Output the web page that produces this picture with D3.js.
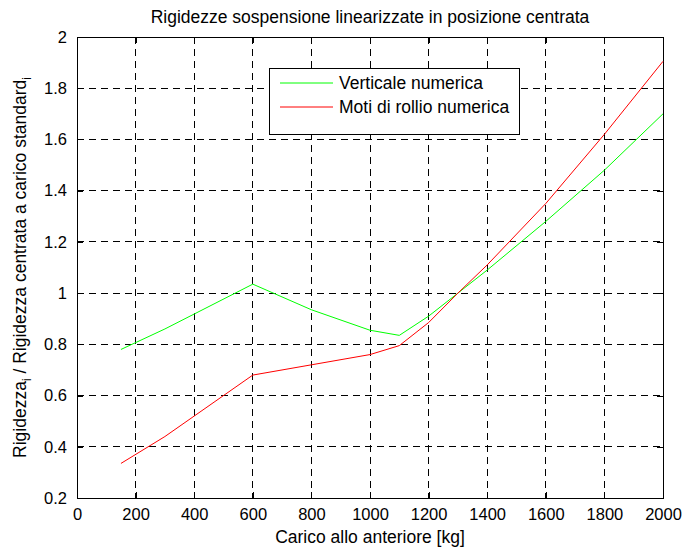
<!DOCTYPE html>
<html>
<head>
<meta charset="utf-8">
<script src="https://cdn.jsdelivr.net/npm/d3@7"></script>
<style>
  body { margin: 0; background: #fff; }
  text { font-family: "Liberation Sans", Arial, sans-serif; fill: #000; }
</style>
</head>
<body>
<div id="graphic"></div>
<script>
// carico anteriore [kg]
var carico = [150, 300, 600, 800, 1000, 1100, 1200, 1300, 1400, 1600, 1800, 2000];
// rigidezze normalizzate
var verticale = [0.78, 0.86, 1.035, 0.935, 0.855, 0.835, 0.91, 1.0, 1.09, 1.28, 1.48, 1.70];
var rollio = [0.335, 0.44, 0.68, 0.72, 0.76, 0.795, 0.885, 1.0, 1.11, 1.35, 1.62, 1.905];

var xTicks = [0, 200, 400, 600, 800, 1000, 1200, 1400, 1600, 1800, 2000];
var yTicks = [0.2, 0.4, 0.6, 0.8, 1, 1.2, 1.4, 1.6, 1.8, 2];

var series = [
    { name: "Verticale numerica", values: verticale, color: "#00ff00" },
    { name: "Moti di rollio numerica", values: rollio, color: "#ff0000" }
];

var margin = { top: 37, right: 20, bottom: 51, left: 77 };
var width = 683 - margin.left - margin.right,
    height = 549 - margin.top - margin.bottom;

var svg = d3.select("#graphic").append("svg")
    .attr("width", 683)
    .attr("height", 549);

var g = svg.append("g")
    .attr("transform", "translate(" + margin.left + "," + margin.top + ")");

var x = d3.scaleLinear().domain([0, 2000]).range([0, width]);
var y = d3.scaleLinear().domain([0.2, 2]).range([height, 0]);

// griglia tratteggiata
g.selectAll(".vgrid").data(xTicks.slice(1, -1)).enter().append("line")
    .attr("x1", function (d) { return x(d); })
    .attr("x2", function (d) { return x(d); })
    .attr("y1", 0).attr("y2", height)
    .attr("stroke", "#000").attr("stroke-dasharray", "7,5").attr("stroke-width", 1)
    .attr("shape-rendering", "crispEdges");

g.selectAll(".hgrid").data(yTicks.slice(1, -1)).enter().append("line")
    .attr("y1", function (d) { return y(d); })
    .attr("y2", function (d) { return y(d); })
    .attr("x1", 0).attr("x2", width)
    .attr("stroke", "#000").attr("stroke-dasharray", "7,5").attr("stroke-width", 1)
    .attr("shape-rendering", "crispEdges");

// assi con tacche verso l'interno su tutti i lati
var tick = 6;
g.append("g")
    .attr("transform", "translate(0," + height + ")")
    .call(d3.axisBottom(x).tickValues(xTicks).tickFormat(d3.format("d")).tickSizeInner(-tick).tickSizeOuter(0).tickPadding(10))
    .call(function (a) {
        a.select(".domain").remove();
        a.selectAll("text").style("font-size", "16.5px").attr("dy", "0.71em");
    });

g.append("g")
    .call(d3.axisLeft(y).tickValues(yTicks).tickFormat(d3.format("~g")).tickSizeInner(-tick).tickSizeOuter(0).tickPadding(10))
    .call(function (a) {
        a.select(".domain").remove();
        a.selectAll("text").style("font-size", "16.5px");
    });

g.append("g")
    .call(d3.axisTop(x).tickValues(xTicks).tickSizeInner(-tick).tickSizeOuter(0).tickFormat(""))
    .call(function (a) { a.select(".domain").remove(); });

g.append("g")
    .attr("transform", "translate(" + width + ",0)")
    .call(d3.axisRight(y).tickValues(yTicks).tickSizeInner(-tick).tickSizeOuter(0).tickFormat(""))
    .call(function (a) { a.select(".domain").remove(); });

g.selectAll(".tick line").attr("stroke", "#000").attr("shape-rendering", "crispEdges");

g.append("rect")
    .attr("width", width).attr("height", height)
    .attr("fill", "none").attr("stroke", "#000").attr("stroke-width", 1)
    .attr("shape-rendering", "crispEdges");

// curve
var line = d3.line()
    .x(function (d, i) { return x(carico[i]); })
    .y(function (d) { return y(d); });

g.selectAll(".serie").data(series).enter().append("path")
    .attr("d", function (s) { return line(s.values); })
    .attr("fill", "none")
    .attr("stroke", function (s) { return s.color; })
    .attr("stroke-width", 1);

// legenda
var legend = svg.append("g").attr("transform", "translate(269,68)");
legend.append("rect")
    .attr("width", 250).attr("height", 66)
    .attr("fill", "#fff").attr("stroke", "#000")
    .attr("shape-rendering", "crispEdges");
var item = legend.selectAll(".item").data(series).enter().append("g")
    .attr("transform", function (d, i) { return "translate(0," + (15 + i * 24) + ")"; });
item.append("line")
    .attr("x1", 11).attr("x2", 64)
    .attr("stroke", function (d) { return d.color; });
item.append("text")
    .attr("x", 70).attr("dy", "0.35em")
    .style("font-size", "17.5px")
    .text(function (d) { return d.name; });

// titolo ed etichette
svg.append("text")
    .attr("x", margin.left + width / 2).attr("y", 23)
    .attr("text-anchor", "middle")
    .style("font-size", "17.5px")
    .text("Rigidezze sospensione linearizzate in posizione centrata");

svg.append("text")
    .attr("x", margin.left + width / 2).attr("y", 543)
    .attr("text-anchor", "middle")
    .style("font-size", "17.5px")
    .text("Carico allo anteriore [kg]");

var ylab = svg.append("text")
    .attr("transform", "translate(26," + (margin.top + height / 2) + ") rotate(-90)")
    .attr("text-anchor", "middle")
    .style("font-size", "17.5px");
ylab.append("tspan").text("Rigidezza");
ylab.append("tspan").attr("dy", 5).style("font-size", "12px").text("i");
ylab.append("tspan").attr("dy", -5).text(" / Rigidezza centrata a carico standard");
ylab.append("tspan").attr("dy", 5).style("font-size", "12px").text("i");
</script>
</body>
</html>
